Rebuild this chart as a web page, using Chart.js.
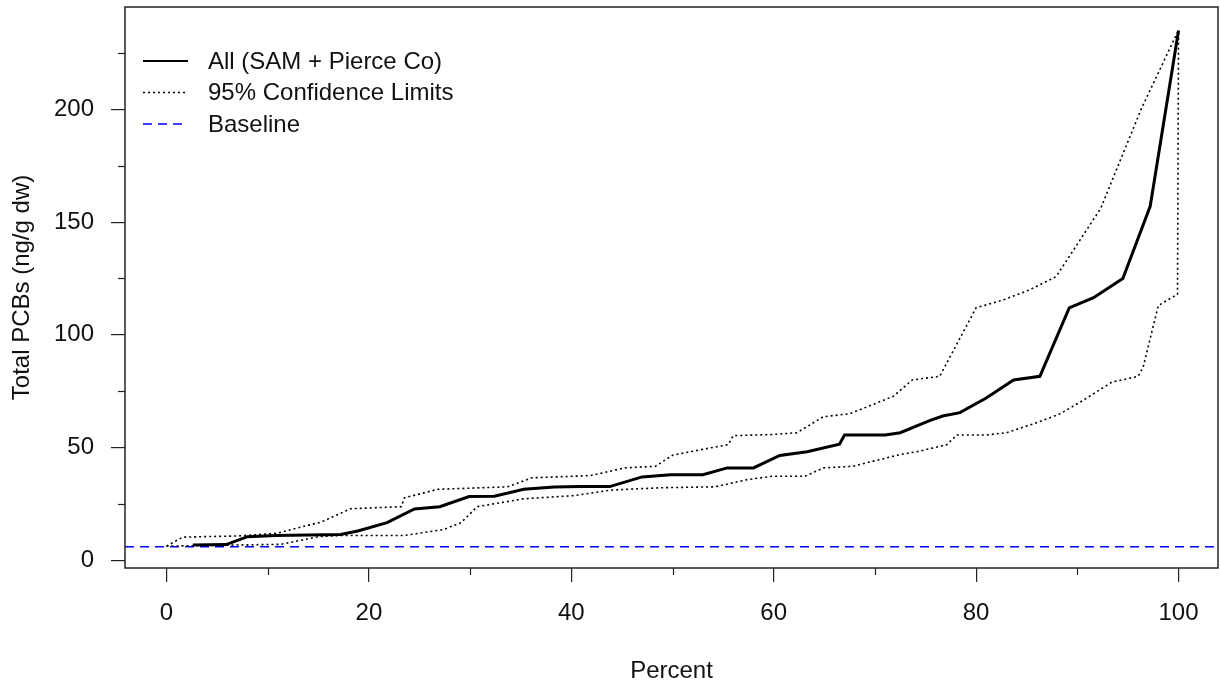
<!DOCTYPE html>
<html lang="en">
<head>
  <meta charset="UTF-8" />
  <title>Total PCBs by Percent</title>
  <script src="https://cdn.jsdelivr.net/npm/chart.js"></script>
  <style>
    html, body { margin: 0; padding: 0; background: #fff; }
    #wrap { width: 1220px; height: 689px; }
  </style>
</head>
<body>
<div id="wrap"><canvas id="pcbChart" width="1220" height="689"></canvas></div>
<script>
  const mainPct = [2.6, 5.9, 8.0, 10.8, 17.2, 18.9, 21.8, 24.5, 27.0, 29.9, 32.4, 35.3, 38.3, 40.9, 43.8, 47.0, 49.8, 53.0, 55.4, 58.0, 60.6, 63.3, 66.5, 67.0, 71.0, 72.5, 75.4, 76.7, 78.4, 81.0, 83.7, 86.3, 89.2, 91.6, 94.5, 97.2, 100];
  const mainPcb = [6.8, 7.0, 10.5, 11.0, 11.5, 13.0, 16.7, 22.8, 23.8, 28.3, 28.4, 31.5, 32.5, 32.7, 32.7, 37.0, 38.0, 38.0, 41.0, 41.0, 46.5, 48.2, 51.5, 55.6, 55.6, 56.6, 62.0, 64.0, 65.5, 72.0, 80.0, 81.6, 112.0, 116.5, 125.0, 157.0, 235.0];

  const upperPct = [0, 1.6, 7.0, 10.9, 15.3, 18.2, 23.2, 23.5, 26.8, 33.7, 36.1, 40.3, 41.9, 43.8, 45.3, 48.3, 50.0, 52.7, 55.5, 56.0, 59.9, 62.3, 64.9, 67.5, 71.8, 73.7, 76.4, 80.0, 82.7, 85.3, 87.9, 92.3, 96.3, 99.6, 100];
  const upperPcb = [6.3, 10.3, 10.8, 12.0, 17.0, 22.9, 23.8, 27.7, 31.5, 32.6, 36.6, 37.3, 37.6, 39.5, 41.0, 41.7, 46.6, 49.0, 51.3, 55.3, 55.8, 56.6, 63.7, 65.0, 72.7, 80.0, 81.6, 112.0, 115.5, 120.0, 125.8, 156.0, 200.0, 231.4, 235.0];

  const lowerPct = [0, 7.0, 11.3, 15.0, 17.2, 23.5, 27.4, 29.1, 30.7, 35.3, 40.3, 43.8, 48.8, 54.2, 57.4, 59.9, 63.1, 64.9, 67.8, 70.5, 72.5, 74.4, 77.1, 78.1, 81.0, 83.0, 85.7, 88.3, 90.6, 93.4, 96.0, 96.5, 98.0, 99.9, 100];
  const lowerPcb = [6.3, 6.8, 7.1, 10.5, 11.0, 11.0, 13.7, 16.7, 23.8, 27.3, 28.7, 31.1, 32.2, 32.6, 35.8, 37.3, 37.3, 41.0, 41.7, 44.7, 46.9, 48.4, 51.3, 55.6, 55.6, 56.6, 60.6, 65.0, 71.0, 79.0, 81.6, 85.6, 113.0, 118.0, 235.0];

  const baselineValue = 6;
  const xTicks = [0, 10, 20, 30, 40, 50, 60, 70, 80, 90, 100];
  const yTicks = [0, 25, 50, 75, 100, 125, 150, 175, 200, 225];
  const legendLabels = ["All (SAM + Pierce Co)", "95% Confidence Limits", "Baseline"];

  const FONT = "'Liberation Sans', Arial, sans-serif";
  const toPts = (xs, ys) => xs.map((x, i) => ({ x: x, y: ys[i] }));

  const X_MIN = -4.1, X_MAX = 103.9, Y_MIN = -3.4, Y_MAX = 245.4;

  const styles = [
    { borderColor: "#000", borderWidth: 3, borderDash: [] },
    { borderColor: "#000", borderWidth: 1.6, borderDash: [2, 3] },
    { borderColor: "#0000ff", borderWidth: 1.6, borderDash: [9, 6] }
  ];

  // box + minor ticks + legend inside the plot, R style
  const frame = {
    id: "frame",
    afterDraw(chart) {
      const { ctx, chartArea: a, scales } = chart;
      ctx.save();
      ctx.strokeStyle = "#222";
      ctx.lineWidth = 1.5;
      ctx.strokeRect(a.left, a.top, a.right - a.left, a.bottom - a.top);

      ctx.lineWidth = 1.2;
      xTicks.filter(v => v % 20 !== 0).forEach(v => {
        const px = Math.round(scales.x.getPixelForValue(v)) + 0.5;
        ctx.beginPath(); ctx.moveTo(px, a.bottom); ctx.lineTo(px, a.bottom + 7); ctx.stroke();
      });
      yTicks.filter(v => v % 50 !== 0).forEach(v => {
        const py = Math.round(scales.y.getPixelForValue(v)) + 0.5;
        ctx.beginPath(); ctx.moveTo(a.left - 7, py); ctx.lineTo(a.left, py); ctx.stroke();
      });

      ctx.font = "24px " + FONT;
      ctx.textBaseline = "middle";
      ctx.fillStyle = "#111";
      legendLabels.forEach((lab, i) => {
        const y = 61 + i * 31.5;
        const s = styles[i];
        ctx.strokeStyle = s.borderColor;
        ctx.lineWidth = i === 0 ? 2 : 1.3;
        ctx.setLineDash(s.borderDash);
        ctx.beginPath(); ctx.moveTo(143, y); ctx.lineTo(188, y); ctx.stroke();
        ctx.setLineDash([]);
        ctx.fillText(lab, 208, y + 1);
      });
      ctx.restore();
    }
  };

  new Chart(document.getElementById("pcbChart"), {
    type: "line",
    data: {
      datasets: [
        { label: legendLabels[0], data: toPts(mainPct, mainPcb), ...styles[0] },
        { label: legendLabels[1], data: toPts(upperPct, upperPcb), ...styles[1] },
        { label: "lower", data: toPts(lowerPct, lowerPcb), ...styles[1] },
        { label: legendLabels[2], data: toPts([X_MIN, X_MAX], [baselineValue, baselineValue]), ...styles[2] }
      ]
    },
    options: {
      responsive: false,
      animation: false,
      events: [],
      elements: { point: { radius: 0 }, line: { tension: 0, fill: false } },
      layout: { padding: { left: 0, top: 7, right: 2, bottom: 0 } },
      plugins: { legend: { display: false }, tooltip: { enabled: false } },
      scales: {
        x: {
          type: "linear",
          min: X_MIN, max: X_MAX,
          afterBuildTicks: s => { s.ticks = xTicks.map(v => ({ value: v })); },
          afterFit: s => { s.height = 121; s.paddingLeft = 0; s.paddingRight = 0; },
          border: { display: false },
          grid: {
            drawOnChartArea: false, tickLength: 14, lineWidth: 1.2,
            tickColor: c => (c.tick && c.tick.value % 20 === 0) ? "#222" : "transparent"
          },
          ticks: {
            padding: 17, color: "#111", maxRotation: 0, autoSkip: false,
            font: { family: FONT, size: 24 },
            callback: v => (v % 20 === 0 ? String(v) : "")
          },
          title: {
            display: true, text: "Percent", color: "#111",
            font: { family: FONT, size: 24 }, padding: { top: 0, bottom: 3 }
          }
        },
        y: {
          type: "linear",
          min: Y_MIN, max: Y_MAX,
          afterBuildTicks: s => { s.ticks = yTicks.map(v => ({ value: v })); },
          afterFit: s => { s.width = 125; s.paddingTop = 0; s.paddingBottom = 0; },
          border: { display: false },
          grid: {
            drawOnChartArea: false, tickLength: 14, lineWidth: 1.2,
            tickColor: c => (c.tick && c.tick.value % 50 === 0) ? "#222" : "transparent"
          },
          ticks: {
            padding: 17, color: "#111", autoSkip: false,
            font: { family: FONT, size: 24 },
            callback: v => (v % 50 === 0 ? String(v) : "")
          },
          title: {
            display: true, text: "Total PCBs (ng/g dw)", color: "#111",
            font: { family: FONT, size: 24 }, padding: { top: 8, bottom: 0 }
          }
        }
      }
    },
    plugins: [frame]
  });
</script>
</body>
</html>
